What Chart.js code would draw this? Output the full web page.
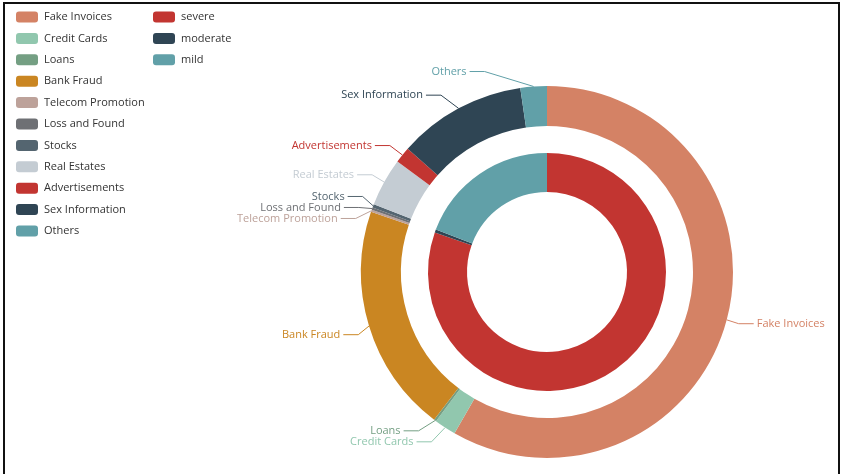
<!DOCTYPE html>
<html>
<head>
<meta charset="utf-8">
<title>Fraud cases by type and level</title>
<script src="https://cdn.jsdelivr.net/npm/chart.js@4/dist/chart.umd.min.js"></script>
<style>
  html, body { margin: 0; padding: 0; background: #fff; }
  #chart { display: block; }
</style>
</head>
<body>
<canvas id="chart" width="845" height="474"></canvas>
<script>
// outer ring - case types (share in %)
const categories = ['Fake Invoices', 'Credit Cards', 'Loans', 'Bank Fraud', 'Telecom Promotion',
  'Loss and Found', 'Stocks', 'Real Estates', 'Advertisements', 'Sex Information', 'Others'];
const categoryShares = [58.4, 1.9, 0.2, 19.9, 0.2, 0.2, 0.3, 4.2, 1.4, 11.2, 2.3];
const categoryColors = ['#d48265', '#91c7ae', '#749f83', '#ca8622', '#bda29a', '#6e7074',
  '#546570', '#c4ccd3', '#c23531', '#2f4554', '#61a0a8'];

// inner ring - severity levels
const levels = ['severe', 'moderate', 'mild'];
const levelShares = [80.4, 0.4, 19.2];
const levelColors = ['#c23531', '#2f4554', '#61a0a8'];

const FONT = '11px "Open Sans", "Noto Sans", sans-serif';

// two column legend at the top left
const legendPlugin = {
  id: 'sideLegend',
  afterDraw(chart) {
    const ctx = chart.ctx;
    ctx.save();
    ctx.font = FONT;
    ctx.textBaseline = 'middle';
    ctx.textAlign = 'left';
    const drawItem = (x, y, color, text) => {
      ctx.fillStyle = color;
      ctx.beginPath();
      ctx.roundRect(x, y - 5.5, 22, 11, 3);
      ctx.fill();
      ctx.fillStyle = '#333';
      ctx.fillText(text, x + 28, y);
    };
    categories.forEach((c, i) => drawItem(16, 17 + i * 21.4, categoryColors[i], c));
    levels.forEach((l, i) => drawItem(153, 17 + i * 21.4, levelColors[i], l));

    // frame
    ctx.strokeStyle = '#111';
    ctx.lineWidth = 2;
    ctx.strokeRect(4, 3, 835, 490);
    ctx.restore();
  }
};

// push labels apart on one side, then put them on a circle again
function adjustSide(list, cx, cy, r, dir, len, len2, viewHeight) {
  function shiftUp(end, delta) {
    for (let j = end; j >= 0; j--) {
      list[j].y -= delta;
      if (j > 0 && list[j].y > list[j - 1].y + list[j - 1].height) break;
    }
  }
  function shiftDown(start, end, delta) {
    for (let j = start; j < end; j++) {
      list[j].y += delta;
      if (j > start && j + 1 < end && list[j + 1].y > list[j].y + list[j].height) {
        shiftUp(j, delta / 2);
        return;
      }
    }
    shiftUp(end - 1, delta / 2);
  }
  function changeX(sub, isDown) {
    let lastDeltaX = isDown ? Number.MAX_VALUE : 0;
    sub.forEach(item => {
      const deltaY = Math.abs(item.y - cy);
      const full = r + len + len2;
      let deltaX = deltaY < r + len ? Math.sqrt(full * full - deltaY * deltaY) : Math.abs(item.x - cx);
      if (isDown && deltaX >= lastDeltaX) deltaX = lastDeltaX - 10;
      if (!isDown && deltaX <= lastDeltaX) deltaX = lastDeltaX + 10;
      item.x = cx + deltaX * dir;
      lastDeltaX = deltaX;
    });
  }

  let lastY = 0;
  for (let i = 0; i < list.length; i++) {
    const delta = list[i].y - lastY;
    if (delta < 0) shiftDown(i, list.length, -delta);
    lastY = list[i].y + list[i].height;
  }
  if (viewHeight - lastY < 0) shiftUp(list.length - 1, lastY - viewHeight);

  changeX(list.filter(d => d.y < cy), false);
  changeX(list.filter(d => d.y >= cy), true);
}

const labelPlugin = {
  id: 'outerLabels',
  afterDatasetsDraw(chart) {
    const meta = chart.getDatasetMeta(0);
    const ctx = chart.ctx;
    const len = 15, len2 = 15;
    let cx = 0, cy = 0, r = 0;

    const items = meta.data.map((arc, i) => {
      const p = arc.getProps(['x', 'y', 'startAngle', 'endAngle', 'outerRadius'], true);
      cx = p.x; cy = p.y; r = p.outerRadius;
      const mid = (p.startAngle + p.endAngle) / 2;
      const ux = Math.cos(mid), uy = Math.sin(mid);
      const dir = ux < 0 ? -1 : 1;
      return {
        i, dir,
        x0: cx + r * ux, y0: cy + r * uy,
        x: cx + (r + len) * ux + dir * len2,
        y: cy + (r + len) * uy,
        height: 11
      };
    });

    const left = items.filter(d => d.dir < 0).sort((a, b) => a.y - b.y);
    const right = items.filter(d => d.dir > 0).sort((a, b) => a.y - b.y);
    adjustSide(left, cx, cy, r, -1, len, len2, chart.height);
    adjustSide(right, cx, cy, r, 1, len, len2, chart.height);

    ctx.save();
    ctx.font = FONT;
    ctx.textBaseline = 'middle';
    ctx.lineWidth = 1;
    items.forEach(d => {
      const color = categoryColors[d.i];
      const x2 = d.x - d.dir * 3;
      const x1 = x2 - d.dir * len2;
      ctx.strokeStyle = color;
      ctx.beginPath();
      ctx.moveTo(d.x0, d.y0);
      ctx.lineTo(x1, d.y);
      ctx.lineTo(x2, d.y);
      ctx.stroke();
      ctx.fillStyle = color;
      ctx.textAlign = d.dir < 0 ? 'right' : 'left';
      ctx.fillText(categories[d.i], d.x, d.y);
    });
    ctx.restore();
  }
};

new Chart(document.getElementById('chart'), {
  type: 'doughnut',
  data: {
    labels: categories,
    datasets: [
      {
        label: 'type',
        data: categoryShares,
        backgroundColor: categoryColors,
        borderWidth: 0,
        weight: 40
      },
      {
        // empty ring between the two pies
        label: 'gap',
        data: [1],
        backgroundColor: 'rgba(0,0,0,0)',
        borderWidth: 0,
        weight: 27
      },
      {
        label: 'level',
        data: levelShares,
        backgroundColor: levelColors,
        borderWidth: 0,
        weight: 39
      }
    ]
  },
  options: {
    responsive: false,
    animation: false,
    radius: 186,
    cutout: (80 / 186 * 100) + '%',
    layout: { padding: { left: 361, right: 112, top: 86, bottom: 16 } },
    plugins: {
      legend: { display: false },
      tooltip: { enabled: false }
    }
  },
  plugins: [labelPlugin, legendPlugin]
});
</script>
</body>
</html>
